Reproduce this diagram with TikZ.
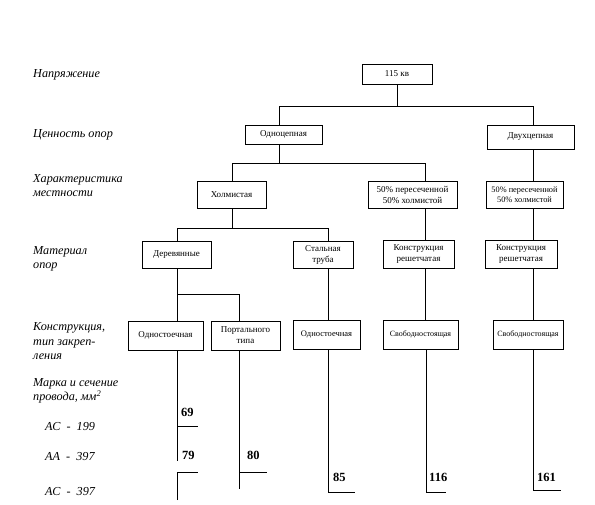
\documentclass[tikz,border=0pt]{standalone}
\usepackage{fontspec}
\setmainfont{Liberation Serif}
\begin{document}
\begin{tikzpicture}[x=1pt,y=-1pt,
  box/.style={draw,line width=0.9pt,inner sep=1pt,align=center,font=\fontsize{9}{11}\selectfont},
  lbl/.style={anchor=west,align=left,inner sep=0pt,font=\fontsize{12.2}{14.5}\selectfont\itshape},
  num/.style={anchor=west,inner sep=0pt,font=\fontsize{12.5}{13}\selectfont\bfseries},
  ln/.style={line width=0.8pt}]
\useasboundingbox (0,0) rectangle (595,505);
% left labels
\node[lbl] (l1) at (33,75) {Напряжение};
\node[lbl] (l2) at (33,135) {Ценность опор};
\node[lbl] (l3) at (33,185.5) {Характеристика\\местности};
\node[lbl] (l4) at (33,259) {Материал\\опор};
\node[lbl] (l5) at (33,341.5) {Конструкция,\\тип закреп-\\ления};
\node[lbl] (l6) at (33,391) {Марка и сечение\\провода, мм\textsuperscript{2}};
\node[lbl] (l7) at (45,427) {АС \ - \ 199};
\node[lbl] (l8) at (45,457) {АА \ - \ 397};
\node[lbl] (l9) at (45,492) {АС \ - \ 397};
% boxes
\node[box,minimum width=70pt,minimum height=20pt] (n115) at (397,74) {115 кв};
\node[box,minimum width=77pt,minimum height=19pt] (odno) at (283.5,134.5) {Одноцепная};
\node[box,minimum width=87pt,minimum height=24pt] (dvuh) at (530.5,137) {Двухцепная};
\node[box,minimum width=69pt,minimum height=27pt] (holm) at (231.5,194.5) {Холмистая};
\node[box,minimum width=89pt,minimum height=27pt] (p50a) at (412.5,194.5) {50\% пересеченной\\50\% холмистой};
\node[box,minimum width=77pt,minimum height=27pt,font=\fontsize{8.3}{10.5}\selectfont] (p50b) at (524.5,194.5) {50\% пересеченной\\50\% холмистой};
\node[box,minimum width=69pt,minimum height=27pt] (der) at (176.5,254.5) {Деревянные};
\node[box,minimum width=60pt,minimum height=27pt] (stal) at (323,254.5) {Стальная\\труба};
\node[box,minimum width=71pt,minimum height=28pt] (kra) at (418.5,254) {Конструкция\\решетчатая};
\node[box,minimum width=72pt,minimum height=28pt] (krb) at (521,254) {Конструкция\\решетчатая};
\node[box,minimum width=75pt,minimum height=29pt] (od1) at (165.5,335.5) {Одностоечная};
\node[box,minimum width=69pt,minimum height=29pt] (port) at (245.5,335.5) {Портального\\типа};
\node[box,minimum width=67pt,minimum height=29pt,font=\fontsize{8.5}{10}\selectfont] (od2) at (326.5,334.5) {Одностоечная};
\node[box,minimum width=75pt,minimum height=29pt,font=\fontsize{8}{10}\selectfont] (sva) at (420.5,334.5) {Свободностоящая};
\node[box,minimum width=70pt,minimum height=29pt,font=\fontsize{8}{10}\selectfont] (svb) at (528,334.5) {Свободностоящая};
% junctions
\coordinate (h1l) at (279,106);
\coordinate (h1r) at (533,106);
\coordinate (h2l) at (232,163);
\coordinate (h2m) at (279,163);
\coordinate (h2r) at (425,163);
\coordinate (h3l) at (177,228);
\coordinate (h3m) at (232,228);
\coordinate (h3r) at (328,228);
\coordinate (h4l) at (177,294);
\coordinate (h4r) at (239,294);
% connectors
\draw[ln] (n115.south) -- (n115.south |- h1l);
\draw[ln] (odno.north -| h1l) -- (h1l) -- (h1r) -- (dvuh.north -| h1r);
\draw[ln] (odno.south -| h2m) -- (h2m);
\draw[ln] (holm.north -| h2l) -- (h2l) -- (h2r) -- (p50a.north -| h2r);
\draw[ln] (dvuh.south -| h1r) -- (p50b.north -| h1r);
\draw[ln] (holm.south -| h3m) -- (h3m);
\draw[ln] (der.north -| h3l) -- (h3l) -- (h3r) -- (stal.north -| h3r);
\draw[ln] (p50a.south -| h2r) -- (kra.north -| h2r);
\draw[ln] (p50b.south -| h1r) -- (krb.north -| h1r);
\draw[ln] (der.south -| h4l) -- (od1.north -| h4l);
\draw[ln] (h4l) -- (h4r) -- (port.north -| h4r);
\draw[ln] (stal.south -| h3r) -- (od2.north -| h3r);
\draw[ln] (kra.south -| h2r) -- (sva.north -| h2r);
\draw[ln] (krb.south -| h1r) -- (svb.north -| h1r);
% bottom leads
\coordinate (s69) at (177,426);
\coordinate (e69) at (198,426);
\coordinate (b1) at (177,461);
\coordinate (c1) at (177,472);
\coordinate (c1e) at (198,472);
\coordinate (c1b) at (177,500);
\draw[ln] (od1.south -| b1) -- (b1);
\draw[ln] (s69) -- (e69);
\draw[ln] (c1b) -- (c1) -- (c1e);
\coordinate (b2) at (239,489);
\coordinate (b2h) at (239,472);
\coordinate (b2e) at (267,472);
\draw[ln] (port.south -| b2) -- (b2);
\draw[ln] (b2h) -- (b2e);
\coordinate (b3) at (328,492);
\coordinate (b3e) at (355,492);
\draw[ln] (od2.south -| b3) -- (b3) -- (b3e);
\coordinate (b4) at (426,492);
\coordinate (b4e) at (446,492);
\draw[ln] (sva.south -| b4) -- (b4) -- (b4e);
\coordinate (b5) at (533,490);
\coordinate (b5e) at (561,490);
\draw[ln] (svb.south -| b5) -- (b5) -- (b5e);
% numbers
\node[num] (v69) at (181,412) {69};
\node[num] (v79) at (182,455) {79};
\node[num] (v80) at (247,455) {80};
\node[num] (v85) at (333,477) {85};
\node[num] (v116) at (429,477) {116};
\node[num] (v161) at (537,477) {161};
\end{tikzpicture}
\end{document}
